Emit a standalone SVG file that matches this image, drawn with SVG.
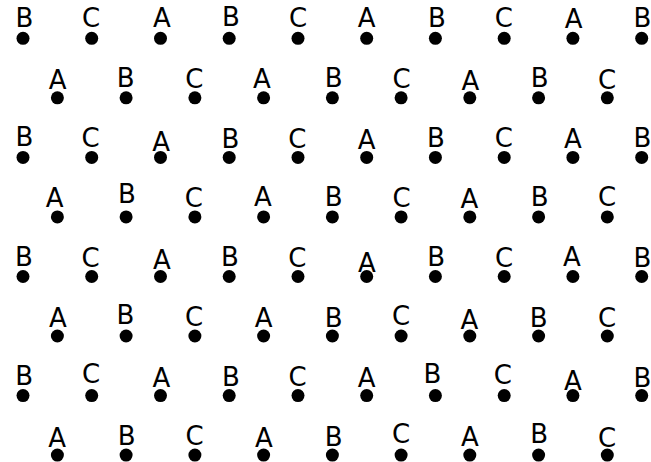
<svg xmlns="http://www.w3.org/2000/svg" width="651" height="462" viewBox="0 0 651 462">
<style>
.d{fill:#000}
.t{font-family:"DejaVu Sans",sans-serif;font-size:26px;fill:#000;text-anchor:middle}
</style>
<rect width="651" height="462" fill="#fff"/>
<g id="r0c0"><circle class="d" cx="23" cy="38.3" r="6.5"/><text class="t" x="24.5" y="27.3">B</text></g>
<g id="r0c1"><circle class="d" cx="91.7" cy="38.3" r="6.5"/><text class="t" x="91" y="27.3">C</text></g>
<g id="r0c2"><circle class="d" cx="160.5" cy="38.3" r="6.5"/><text class="t" x="162" y="27.3">A</text></g>
<g id="r0c3"><circle class="d" cx="229.2" cy="38.3" r="6.5"/><text class="t" x="230.8" y="26">B</text></g>
<g id="r0c4"><circle class="d" cx="298" cy="38.3" r="6.5"/><text class="t" x="298" y="26.7">C</text></g>
<g id="r0c5"><circle class="d" cx="366.7" cy="38.3" r="6.5"/><text class="t" x="366.7" y="27.3">A</text></g>
<g id="r0c6"><circle class="d" cx="435.4" cy="38.3" r="6.5"/><text class="t" x="436.8" y="26.7">B</text></g>
<g id="r0c7"><circle class="d" cx="504.2" cy="38.3" r="6.5"/><text class="t" x="503.8" y="27.3">C</text></g>
<g id="r0c8"><circle class="d" cx="572.9" cy="38.3" r="6.5"/><text class="t" x="573.7" y="28.3">A</text></g>
<g id="r0c9"><circle class="d" cx="641.7" cy="38.3" r="6.5"/><text class="t" x="642.4" y="26.7">B</text></g>

<g id="r1c0"><circle class="d" cx="57.4" cy="97.8" r="6.5"/><text class="t" x="57.7" y="89.3">A</text></g>
<g id="r1c1"><circle class="d" cx="126.1" cy="97.8" r="6.5"/><text class="t" x="125.7" y="87.3">B</text></g>
<g id="r1c2"><circle class="d" cx="194.9" cy="97.8" r="6.5"/><text class="t" x="194.3" y="88.3">C</text></g>
<g id="r1c3"><circle class="d" cx="263.6" cy="97.8" r="6.5"/><text class="t" x="262" y="88.3">A</text></g>
<g id="r1c4"><circle class="d" cx="332.4" cy="97.8" r="6.5"/><text class="t" x="333.7" y="86.7">B</text></g>
<g id="r1c5"><circle class="d" cx="401.1" cy="97.8" r="6.5"/><text class="t" x="401.7" y="88.3">C</text></g>
<g id="r1c6"><circle class="d" cx="469.8" cy="97.8" r="6.5"/><text class="t" x="470.5" y="90">A</text></g>
<g id="r1c7"><circle class="d" cx="538.6" cy="97.8" r="6.5"/><text class="t" x="539.7" y="87.3">B</text></g>
<g id="r1c8"><circle class="d" cx="607.3" cy="97.8" r="6.5"/><text class="t" x="607" y="89.3">C</text></g>

<g id="r2c0"><circle class="d" cx="23" cy="157.4" r="6.5"/><text class="t" x="24.5" y="146">B</text></g>
<g id="r2c1"><circle class="d" cx="91.7" cy="157.4" r="6.5"/><text class="t" x="90.5" y="146.7">C</text></g>
<g id="r2c2"><circle class="d" cx="160.5" cy="157.4" r="6.5"/><text class="t" x="161.2" y="150.7">A</text></g>
<g id="r2c3"><circle class="d" cx="229.2" cy="157.4" r="6.5"/><text class="t" x="230.5" y="148.3">B</text></g>
<g id="r2c4"><circle class="d" cx="298" cy="157.4" r="6.5"/><text class="t" x="297.3" y="148.3">C</text></g>
<g id="r2c5"><circle class="d" cx="366.7" cy="157.4" r="6.5"/><text class="t" x="366.7" y="149.3">A</text></g>
<g id="r2c6"><circle class="d" cx="435.4" cy="157.4" r="6.5"/><text class="t" x="435.8" y="147.3">B</text></g>
<g id="r2c7"><circle class="d" cx="504.2" cy="157.4" r="6.5"/><text class="t" x="503.8" y="147.3">C</text></g>
<g id="r2c8"><circle class="d" cx="572.9" cy="157.4" r="6.5"/><text class="t" x="572.8" y="148.3">A</text></g>
<g id="r2c9"><circle class="d" cx="641.7" cy="157.4" r="6.5"/><text class="t" x="642.4" y="146.7">B</text></g>

<g id="r3c0"><circle class="d" cx="57.4" cy="216.9" r="6.5"/><text class="t" x="54.7" y="207.3">A</text></g>
<g id="r3c1"><circle class="d" cx="126.1" cy="216.9" r="6.5"/><text class="t" x="127" y="203.3">B</text></g>
<g id="r3c2"><circle class="d" cx="194.9" cy="216.9" r="6.5"/><text class="t" x="193.8" y="207.3">C</text></g>
<g id="r3c3"><circle class="d" cx="263.6" cy="216.9" r="6.5"/><text class="t" x="262.8" y="206">A</text></g>
<g id="r3c4"><circle class="d" cx="332.4" cy="216.9" r="6.5"/><text class="t" x="333.7" y="206">B</text></g>
<g id="r3c5"><circle class="d" cx="401.1" cy="216.9" r="6.5"/><text class="t" x="401.7" y="206.7">C</text></g>
<g id="r3c6"><circle class="d" cx="469.8" cy="216.9" r="6.5"/><text class="t" x="469.5" y="208.3">A</text></g>
<g id="r3c7"><circle class="d" cx="538.6" cy="216.9" r="6.5"/><text class="t" x="539.7" y="206">B</text></g>
<g id="r3c8"><circle class="d" cx="607.3" cy="216.9" r="6.5"/><text class="t" x="607" y="206">C</text></g>

<g id="r4c0"><circle class="d" cx="23" cy="276.5" r="6.5"/><text class="t" x="23.8" y="266">B</text></g>
<g id="r4c1"><circle class="d" cx="91.7" cy="276.5" r="6.5"/><text class="t" x="90.7" y="266.7">C</text></g>
<g id="r4c2"><circle class="d" cx="160.5" cy="276.5" r="6.5"/><text class="t" x="162" y="269.3">A</text></g>
<g id="r4c3"><circle class="d" cx="229.2" cy="276.5" r="6.5"/><text class="t" x="230" y="266">B</text></g>
<g id="r4c4"><circle class="d" cx="298" cy="276.5" r="6.5"/><text class="t" x="297.3" y="267.3">C</text></g>
<g id="r4c5"><circle class="d" cx="366.7" cy="276.5" r="6.5"/><text class="t" x="367" y="271.7">A</text></g>
<g id="r4c6"><circle class="d" cx="435.4" cy="276.5" r="6.5"/><text class="t" x="436.2" y="266">B</text></g>
<g id="r4c7"><circle class="d" cx="504.2" cy="276.5" r="6.5"/><text class="t" x="504" y="266.7">C</text></g>
<g id="r4c8"><circle class="d" cx="572.9" cy="276.5" r="6.5"/><text class="t" x="572" y="266">A</text></g>
<g id="r4c9"><circle class="d" cx="641.7" cy="276.5" r="6.5"/><text class="t" x="642.4" y="266.7">B</text></g>

<g id="r5c0"><circle class="d" cx="57.4" cy="336" r="6.5"/><text class="t" x="58" y="327.3">A</text></g>
<g id="r5c1"><circle class="d" cx="126.1" cy="336" r="6.5"/><text class="t" x="125.5" y="324">B</text></g>
<g id="r5c2"><circle class="d" cx="194.9" cy="336" r="6.5"/><text class="t" x="194" y="326">C</text></g>
<g id="r5c3"><circle class="d" cx="263.6" cy="336" r="6.5"/><text class="t" x="263.7" y="327.3">A</text></g>
<g id="r5c4"><circle class="d" cx="332.4" cy="336" r="6.5"/><text class="t" x="333.7" y="327.3">B</text></g>
<g id="r5c5"><circle class="d" cx="401.1" cy="336" r="6.5"/><text class="t" x="401" y="325">C</text></g>
<g id="r5c6"><circle class="d" cx="469.8" cy="336" r="6.5"/><text class="t" x="469.5" y="329.3">A</text></g>
<g id="r5c7"><circle class="d" cx="538.6" cy="336" r="6.5"/><text class="t" x="538.7" y="327.3">B</text></g>
<g id="r5c8"><circle class="d" cx="607.3" cy="336" r="6.5"/><text class="t" x="607" y="326.7">C</text></g>

<g id="r6c0"><circle class="d" cx="23" cy="395.6" r="6.5"/><text class="t" x="24.2" y="385">B</text></g>
<g id="r6c1"><circle class="d" cx="91.7" cy="395.6" r="6.5"/><text class="t" x="91.2" y="383.3">C</text></g>
<g id="r6c2"><circle class="d" cx="160.5" cy="395.6" r="6.5"/><text class="t" x="161.3" y="386.7">A</text></g>
<g id="r6c3"><circle class="d" cx="229.2" cy="395.6" r="6.5"/><text class="t" x="230.8" y="386">B</text></g>
<g id="r6c4"><circle class="d" cx="298" cy="395.6" r="6.5"/><text class="t" x="297.7" y="386">C</text></g>
<g id="r6c5"><circle class="d" cx="366.7" cy="395.6" r="6.5"/><text class="t" x="366.7" y="386.7">A</text></g>
<g id="r6c6"><circle class="d" cx="435.4" cy="395.6" r="6.5"/><text class="t" x="432.5" y="383.3">B</text></g>
<g id="r6c7"><circle class="d" cx="504.2" cy="395.6" r="6.5"/><text class="t" x="502.8" y="384">C</text></g>
<g id="r6c8"><circle class="d" cx="572.9" cy="395.6" r="6.5"/><text class="t" x="572.8" y="390">A</text></g>
<g id="r6c9"><circle class="d" cx="641.7" cy="395.6" r="6.5"/><text class="t" x="642.4" y="386.7">B</text></g>

<g id="r7c0"><circle class="d" cx="57.4" cy="455.1" r="6.5"/><text class="t" x="57.2" y="446.7">A</text></g>
<g id="r7c1"><circle class="d" cx="126.1" cy="455.1" r="6.5"/><text class="t" x="126.7" y="445">B</text></g>
<g id="r7c2"><circle class="d" cx="194.9" cy="455.1" r="6.5"/><text class="t" x="194.7" y="445">C</text></g>
<g id="r7c3"><circle class="d" cx="263.6" cy="455.1" r="6.5"/><text class="t" x="263.8" y="446.7">A</text></g>
<g id="r7c4"><circle class="d" cx="332.4" cy="455.1" r="6.5"/><text class="t" x="333.7" y="446">B</text></g>
<g id="r7c5"><circle class="d" cx="401.1" cy="455.1" r="6.5"/><text class="t" x="401" y="443.3">C</text></g>
<g id="r7c6"><circle class="d" cx="469.8" cy="455.1" r="6.5"/><text class="t" x="470" y="446">A</text></g>
<g id="r7c7"><circle class="d" cx="538.6" cy="455.1" r="6.5"/><text class="t" x="539.2" y="443.3">B</text></g>
<g id="r7c8"><circle class="d" cx="607.3" cy="455.1" r="6.5"/><text class="t" x="607" y="446.7">C</text></g>
</svg>
